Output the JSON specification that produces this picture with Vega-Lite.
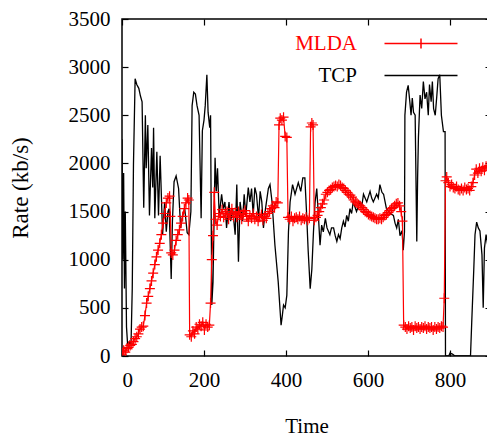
{
"$schema": "https://vega.github.io/schema/vega-lite/v6.json",
"autosize": "none",
"width": 369,
"height": 337,
"padding": {"left": 122, "top": 19, "right": 0, "bottom": 82},
"background": "white",
"config": {
  "font": "Liberation Serif",
  "view": {"stroke": "black", "strokeWidth": 1.5},
  "axis": {"grid": false, "domain": false, "labelFont": "Liberation Serif", "labelFontSize": 21, "labelColor": "black", "titleFont": "Liberation Serif", "titleFontSize": 21, "titleFontWeight": "normal", "titleColor": "black", "tickColor": "black", "tickSize": -6, "tickWidth": 1.2}
},
"datasets": {
  "tcp": [
    {"time":0,"rate":2250},{"time":2,"rate":1000},{"time":4,"rate":1900},{"time":6,"rate":700},{"time":8,"rate":1500},{"time":11,"rate":300},{"time":14,"rate":100},{"time":18,"rate":150},{"time":22,"rate":120},{"time":25,"rate":700},{"time":28,"rate":2000},{"time":32,"rate":2880},{"time":36,"rate":2820},{"time":41,"rate":2780},{"time":45,"rate":2700},{"time":49,"rate":2640},{"time":53,"rate":1540},{"time":57,"rate":2500},{"time":59,"rate":1950},{"time":63,"rate":2400},{"time":67,"rate":1460},{"time":72,"rate":2160},{"time":75,"rate":1750},{"time":77,"rate":2370},{"time":80,"rate":1430},{"time":85,"rate":2120},{"time":89,"rate":1460},{"time":93,"rate":2080},{"time":99,"rate":1260},{"time":104,"rate":1600},{"time":108,"rate":1290},{"time":112,"rate":1500},{"time":115,"rate":1530},{"time":120,"rate":800},{"time":123,"rate":1400},{"time":127,"rate":1810},{"time":132,"rate":1870},{"time":138,"rate":1740},{"time":143,"rate":1330},{"time":148,"rate":1460},{"time":153,"rate":1530},{"time":159,"rate":1280},{"time":163,"rate":1260},{"time":168,"rate":1500},{"time":171,"rate":2600},{"time":175,"rate":2740},{"time":179,"rate":2720},{"time":183,"rate":2600},{"time":188,"rate":2500},{"time":193,"rate":1430},{"time":196,"rate":2340},{"time":200,"rate":2450},{"time":203,"rate":2600},{"time":207,"rate":2920},{"time":210,"rate":2530},{"time":214,"rate":2370},{"time":216,"rate":2500},{"time":219,"rate":530},{"time":222,"rate":770},{"time":227,"rate":2060},{"time":230,"rate":1710},{"time":233,"rate":1950},{"time":237,"rate":1460},{"time":243,"rate":1680},{"time":247,"rate":1530},{"time":251,"rate":1600},{"time":255,"rate":1330},{"time":261,"rate":1600},{"time":265,"rate":1400},{"time":270,"rate":1530},{"time":276,"rate":1260},{"time":280,"rate":1780},{"time":284,"rate":980},{"time":288,"rate":1600},{"time":294,"rate":1400},{"time":298,"rate":1680},{"time":302,"rate":1460},{"time":308,"rate":1750},{"time":312,"rate":1600},{"time":316,"rate":1740},{"time":320,"rate":1460},{"time":324,"rate":1750},{"time":328,"rate":1680},{"time":333,"rate":1430},{"time":337,"rate":1710},{"time":341,"rate":1600},{"time":345,"rate":1330},{"time":350,"rate":1530},{"time":357,"rate":1740},{"time":361,"rate":1780},{"time":366,"rate":1600},{"time":373,"rate":1150},{"time":381,"rate":770},{"time":388,"rate":320},{"time":391,"rate":420},{"time":394,"rate":530},{"time":398,"rate":500},{"time":402,"rate":630},{"time":406,"rate":1290},{"time":410,"rate":1600},{"time":416,"rate":1780},{"time":422,"rate":1680},{"time":430,"rate":1800},{"time":436,"rate":1710},{"time":441,"rate":1850},{"time":446,"rate":1850},{"time":450,"rate":1500},{"time":454,"rate":1100},{"time":459,"rate":700},{"time":463,"rate":900},{"time":467,"rate":1290},{"time":471,"rate":1600},{"time":475,"rate":1740},{"time":479,"rate":1460},{"time":483,"rate":1150},{"time":487,"rate":1360},{"time":491,"rate":1290},{"time":496,"rate":1430},{"time":500,"rate":1330},{"time":507,"rate":1260},{"time":511,"rate":1330},{"time":516,"rate":1330},{"time":520,"rate":1250},{"time":524,"rate":1190},{"time":528,"rate":1260},{"time":532,"rate":1220},{"time":536,"rate":1330},{"time":540,"rate":1400},{"time":544,"rate":1340},{"time":548,"rate":1460},{"time":552,"rate":1400},{"time":556,"rate":1530},{"time":560,"rate":1480},{"time":564,"rate":1600},{"time":572,"rate":1500},{"time":580,"rate":1600},{"time":585,"rate":1560},{"time":589,"rate":1680},{"time":597,"rate":1600},{"time":605,"rate":1710},{"time":609,"rate":1640},{"time":613,"rate":1600},{"time":621,"rate":1680},{"time":625,"rate":1640},{"time":629,"rate":1780},{"time":634,"rate":1700},{"time":638,"rate":1680},{"time":645,"rate":1530},{"time":654,"rate":1480},{"time":662,"rate":1460},{"time":666,"rate":1380},{"time":670,"rate":1330},{"time":674,"rate":1420},{"time":678,"rate":1250},{"time":683,"rate":1300},{"time":686,"rate":1100},{"time":689,"rate":1290},{"time":690,"rate":2500},{"time":694,"rate":2740},{"time":698,"rate":2810},{"time":702,"rate":2640},{"time":705,"rate":2500},{"time":708,"rate":2680},{"time":711,"rate":2530},{"time":715,"rate":2500},{"time":719,"rate":1190},{"time":721,"rate":1850},{"time":723,"rate":2270},{"time":727,"rate":2710},{"time":731,"rate":2570},{"time":735,"rate":2850},{"time":739,"rate":2670},{"time":743,"rate":2740},{"time":747,"rate":2500},{"time":750,"rate":2820},{"time":754,"rate":2640},{"time":757,"rate":2850},{"time":760,"rate":2570},{"time":764,"rate":2500},{"time":768,"rate":2710},{"time":771,"rate":2880},{"time":775,"rate":2920},{"time":779,"rate":2500},{"time":784,"rate":2330},{"time":788,"rate":2330},{"time":789,"rate":0},{"time":797,"rate":0},{"time":800,"rate":30},{"time":806,"rate":20},{"time":812,"rate":0},{"time":850,"rate":0},{"time":853,"rate":350},{"time":858,"rate":900},{"time":861,"rate":1260},{"time":865,"rate":1390},{"time":869,"rate":1330},{"time":873,"rate":1300},{"time":878,"rate":1050},{"time":881,"rate":500},{"time":884,"rate":1120},{"time":888,"rate":1260},{"time":892,"rate":1150},{"time":896,"rate":1200},{"time":900,"rate":1100}
  ],
  "mlda": [
    {"time":0,"rate":20},{"time":4,"rate":60},{"time":8,"rate":40},{"time":12,"rate":80},{"time":16,"rate":90},{"time":20,"rate":110},{"time":24,"rate":120},{"time":28,"rate":150},{"time":32,"rate":180},{"time":36,"rate":200},{"time":40,"rate":230},{"time":44,"rate":280},{"time":48,"rate":300},{"time":52,"rate":310},{"time":56,"rate":420},{"time":60,"rate":550},{"time":64,"rate":620},{"time":68,"rate":700},{"time":72,"rate":780},{"time":76,"rate":860},{"time":80,"rate":950},{"time":84,"rate":1030},{"time":88,"rate":1100},{"time":92,"rate":1170},{"time":96,"rate":1260},{"time":100,"rate":1380},{"time":104,"rate":1480},{"time":108,"rate":1590},{"time":112,"rate":1640},{"time":116,"rate":1660},{"time":118,"rate":1450},{"time":120,"rate":1070},{"time":124,"rate":1050},{"time":128,"rate":1100},{"time":132,"rate":1200},{"time":136,"rate":1260},{"time":140,"rate":1310},{"time":144,"rate":1380},{"time":148,"rate":1450},{"time":152,"rate":1530},{"time":156,"rate":1590},{"time":160,"rate":1640},{"time":163,"rate":1620},{"time":165,"rate":220},{"time":169,"rate":200},{"time":173,"rate":260},{"time":177,"rate":230},{"time":181,"rate":300},{"time":185,"rate":280},{"time":189,"rate":330},{"time":193,"rate":310},{"time":197,"rate":350},{"time":201,"rate":270},{"time":205,"rate":330},{"time":209,"rate":300},{"time":213,"rate":320},{"time":216,"rate":550},{"time":219,"rate":1000},{"time":222,"rate":1250},{"time":225,"rate":1700},{"time":228,"rate":1420},{"time":232,"rate":1360},{"time":236,"rate":1480},{"time":240,"rate":1450},{"time":244,"rate":1520},{"time":248,"rate":1440},{"time":252,"rate":1480},{"time":256,"rate":1500},{"time":260,"rate":1420},{"time":264,"rate":1470},{"time":268,"rate":1530},{"time":272,"rate":1450},{"time":276,"rate":1490},{"time":280,"rate":1440},{"time":284,"rate":1500},{"time":288,"rate":1470},{"time":292,"rate":1420},{"time":296,"rate":1480},{"time":300,"rate":1510},{"time":304,"rate":1450},{"time":308,"rate":1400},{"time":312,"rate":1460},{"time":316,"rate":1430},{"time":320,"rate":1480},{"time":324,"rate":1420},{"time":328,"rate":1450},{"time":332,"rate":1400},{"time":336,"rate":1440},{"time":340,"rate":1470},{"time":344,"rate":1410},{"time":348,"rate":1450},{"time":352,"rate":1430},{"time":356,"rate":1480},{"time":360,"rate":1500},{"time":364,"rate":1530},{"time":368,"rate":1560},{"time":372,"rate":1540},{"time":376,"rate":1600},{"time":380,"rate":1590},{"time":383,"rate":2400},{"time":386,"rate":2470},{"time":390,"rate":2450},{"time":394,"rate":2480},{"time":398,"rate":2280},{"time":402,"rate":2270},{"time":405,"rate":1440},{"time":409,"rate":1420},{"time":413,"rate":1450},{"time":417,"rate":1400},{"time":421,"rate":1430},{"time":425,"rate":1440},{"time":429,"rate":1420},{"time":433,"rate":1450},{"time":437,"rate":1410},{"time":441,"rate":1430},{"time":445,"rate":1420},{"time":449,"rate":1440},{"time":453,"rate":1410},{"time":457,"rate":1430},{"time":460,"rate":2380},{"time":463,"rate":2420},{"time":466,"rate":2400},{"time":469,"rate":1410},{"time":473,"rate":1440},{"time":477,"rate":1460},{"time":481,"rate":1500},{"time":485,"rate":1540},{"time":489,"rate":1580},{"time":493,"rate":1620},{"time":497,"rate":1680},{"time":501,"rate":1700},{"time":505,"rate":1720},{"time":509,"rate":1730},{"time":513,"rate":1750},{"time":517,"rate":1760},{"time":521,"rate":1770},{"time":525,"rate":1760},{"time":529,"rate":1780},{"time":533,"rate":1770},{"time":537,"rate":1750},{"time":541,"rate":1740},{"time":545,"rate":1720},{"time":549,"rate":1700},{"time":553,"rate":1680},{"time":557,"rate":1670},{"time":561,"rate":1650},{"time":565,"rate":1620},{"time":569,"rate":1600},{"time":573,"rate":1590},{"time":577,"rate":1570},{"time":581,"rate":1560},{"time":585,"rate":1540},{"time":589,"rate":1520},{"time":593,"rate":1500},{"time":597,"rate":1490},{"time":601,"rate":1470},{"time":605,"rate":1460},{"time":609,"rate":1450},{"time":613,"rate":1440},{"time":617,"rate":1430},{"time":621,"rate":1420},{"time":625,"rate":1420},{"time":629,"rate":1430},{"time":633,"rate":1420},{"time":637,"rate":1440},{"time":641,"rate":1460},{"time":645,"rate":1470},{"time":649,"rate":1490},{"time":653,"rate":1510},{"time":657,"rate":1530},{"time":661,"rate":1540},{"time":665,"rate":1560},{"time":669,"rate":1580},{"time":673,"rate":1590},{"time":677,"rate":1560},{"time":681,"rate":1500},{"time":684,"rate":1400},{"time":687,"rate":320},{"time":691,"rate":300},{"time":695,"rate":280},{"time":699,"rate":310},{"time":703,"rate":290},{"time":707,"rate":300},{"time":711,"rate":270},{"time":715,"rate":310},{"time":719,"rate":290},{"time":723,"rate":300},{"time":727,"rate":280},{"time":731,"rate":300},{"time":735,"rate":290},{"time":739,"rate":310},{"time":743,"rate":280},{"time":747,"rate":300},{"time":751,"rate":290},{"time":755,"rate":300},{"time":759,"rate":270},{"time":763,"rate":300},{"time":767,"rate":280},{"time":771,"rate":300},{"time":775,"rate":290},{"time":779,"rate":310},{"time":783,"rate":300},{"time":786,"rate":600},{"time":789,"rate":1820},{"time":792,"rate":1860},{"time":796,"rate":1800},{"time":800,"rate":1760},{"time":804,"rate":1780},{"time":808,"rate":1750},{"time":812,"rate":1740},{"time":816,"rate":1760},{"time":820,"rate":1730},{"time":824,"rate":1720},{"time":828,"rate":1740},{"time":832,"rate":1720},{"time":836,"rate":1750},{"time":840,"rate":1730},{"time":844,"rate":1740},{"time":848,"rate":1720},{"time":852,"rate":1760},{"time":856,"rate":1800},{"time":860,"rate":1880},{"time":864,"rate":1940},{"time":868,"rate":1900},{"time":872,"rate":1950},{"time":876,"rate":1920},{"time":880,"rate":1960},{"time":884,"rate":1930},{"time":888,"rate":1970},{"time":892,"rate":1950},{"time":896,"rate":1980},{"time":900,"rate":1960}
  ]
},
"layer": [
  {
    "data": {"name": "tcp"},
    "transform": [{"calculate": "'TCP'", "as": "series"}],
    "mark": {"type": "line", "strokeWidth": 1.3, "clip": true},
    "encoding": {
      "x": {"field": "time", "type": "quantitative", "scale": {"domain": [0, 900], "nice": false, "zero": false},
            "axis": {"orient": "bottom", "values": [0, 200, 400, 600, 800], "format": "d", "title": "Time", "labelFont": "Liberation Serif", "labelFontSize": 21, "titleFont": "Liberation Serif", "labelPadding": 19, "titlePadding": 25}},
      "y": {"field": "rate", "type": "quantitative", "scale": {"domain": [0, 3500], "nice": false},
            "axis": {"orient": "left", "values": [0, 500, 1000, 1500, 2000, 2500, 3000, 3500], "format": "d", "title": "Rate (kb/s)", "labelFont": "Liberation Serif", "labelFontSize": 21, "titleFont": "Liberation Serif", "titleFontSize": 23, "labelPadding": 18, "titlePadding": 36}},
      "color": {"field": "series", "type": "nominal",
        "scale": {"domain": ["MLDA", "TCP"], "range": ["#ff0000", "#000000"]},
        "legend": {
          "orient": "none", "legendX": 235, "legendY": -13, "title": null,
          "labelFont": "Liberation Serif", "labelFontSize": 21, "rowPadding": 0, "symbolSize": 100,
          "encode": {
            "labels": {"update": {"x": {"value": 0}, "align": {"value": "right"}, "dy": {"signal": "datum.value === 'TCP' ? -16 : 0"}, "fill": {"signal": "datum.value === 'MLDA' ? '#ff0000' : '#000000'"}}},
            "symbols": {"update": {"x": {"value": 64}, "size": {"value": 5329}, "strokeWidth": {"value": 1.5},
              "shape": {"signal": "datum.value === 'MLDA' ? 'M-1,0H1M0,-0.14V0.14' : 'M-1,-0.44H1'"}}}
          }
        }
      }
    }
  },
  {
    "data": {"name": "mlda"},
    "transform": [{"calculate": "'MLDA'", "as": "series"}],
    "mark": {"type": "line", "strokeWidth": 1.2, "clip": true},
    "encoding": {
      "x": {"field": "time", "type": "quantitative", "scale": {"domain": [0, 900], "nice": false, "zero": false},
            "axis": {"orient": "top", "values": [0, 200, 400, 600, 800], "labels": false, "title": null}},
      "y": {"field": "rate", "type": "quantitative", "scale": {"domain": [0, 3500], "nice": false},
            "axis": {"orient": "right", "values": [0, 500, 1000, 1500, 2000, 2500, 3000, 3500], "labels": false, "title": null}},
      "color": {"field": "series", "type": "nominal"}
    }
  },
  {
    "data": {"name": "mlda"},
    "transform": [{"calculate": "'MLDA'", "as": "series"}],
    "mark": {"type": "point", "shape": "M-1,0H1M0,-1V1", "filled": false, "size": 100, "strokeWidth": 1.2, "opacity": 1, "clip": true},
    "encoding": {
      "x": {"field": "time", "type": "quantitative", "axis": null},
      "y": {"field": "rate", "type": "quantitative", "axis": null},
      "color": {"field": "series", "type": "nominal"}
    }
  }
],
"resolve": {"axis": {"x": "independent", "y": "independent"}}
}
